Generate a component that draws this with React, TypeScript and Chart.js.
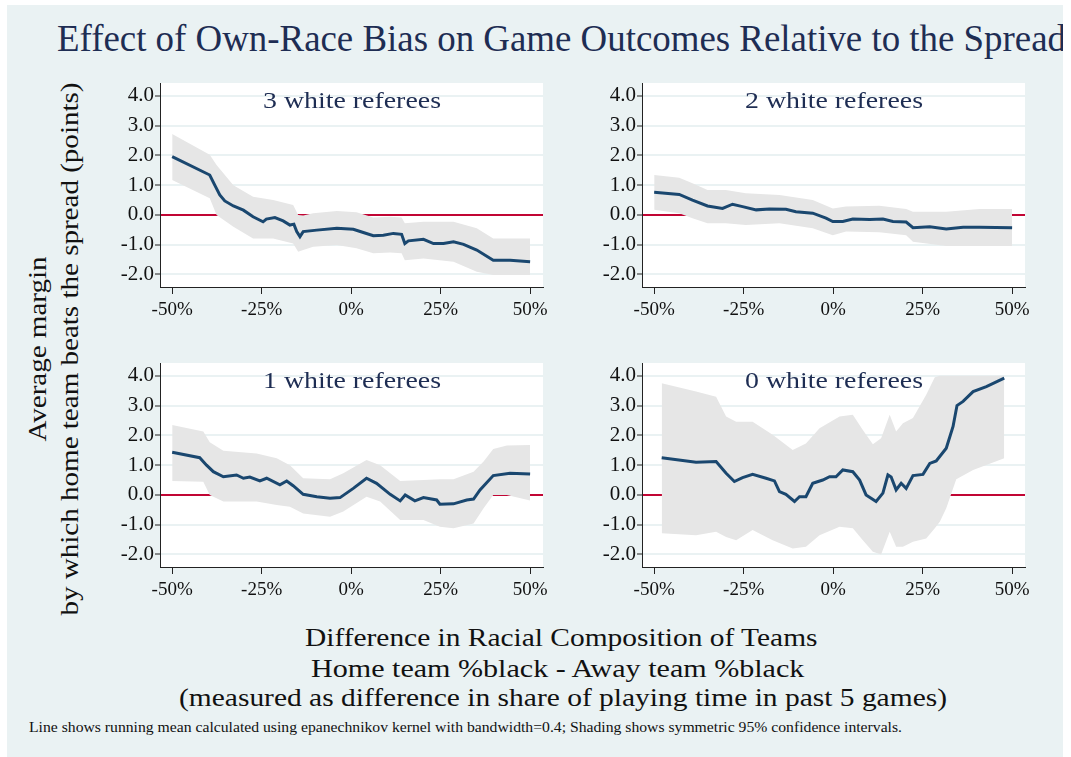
import React, { useEffect, useRef } from "react";
import { Chart, registerables } from "chart.js";

Chart.register(...registerables);

// ---------- data ----------
const X_TICKS = [-50, -25, 0, 25, 50];
const Y_TICKS = [-2, -1, 0, 1, 2, 3, 4];

const PANEL_TITLES = ["3 white referees", "2 white referees", "1 white referees", "0 white referees"];

// 3 white referees
const lineX3 = [-50, -39.5, -38.1, -36.7, -35.3, -32.9, -30.1, -27.4, -24.6, -23.7, -21.3, -19, -17.1, -16, -15.2, -14.3, -13.4, -9.6, -4, 0.6, 3.4, 6.2, 9, 11.8, 14.1, 15, 16, 20.2, 23, 25.8, 28.6, 31.4, 35.1, 39.7, 44.4, 50];
const mean3 = [1.96, 1.34, 1.0, 0.67, 0.47, 0.3, 0.16, -0.06, -0.23, -0.14, -0.09, -0.2, -0.34, -0.31, -0.56, -0.73, -0.56, -0.51, -0.45, -0.48, -0.59, -0.7, -0.68, -0.62, -0.65, -0.96, -0.87, -0.82, -0.96, -0.96, -0.9, -0.99, -1.18, -1.52, -1.52, -1.57];
const bandX3 = [-50, -39.5, -37.6, -32.9, -27.4, -21.8, -16.2, -14.8, -13.4, -10.6, -4, 1.5, 6.2, 10.9, 14.1, 15, 20.2, 28.6, 35.1, 39.7, 50];
const hi3 = [2.72, 2.02, 1.68, 1.0, 0.61, 0.5, 0.33, 0.0, -0.02, 0.06, 0.13, 0.09, -0.09, -0.06, -0.09, -0.28, -0.23, -0.23, -0.45, -0.79, -0.79];
const lo3 = [1.17, 0.56, 0.0, -0.4, -0.79, -0.79, -0.96, -1.24, -1.18, -1.07, -1.01, -1.12, -1.29, -1.26, -1.29, -1.52, -1.46, -1.57, -1.91, -2.02, -2.02];

// 2 white referees
const lineX2 = [-50, -43, -39.3, -35.1, -30.9, -28.1, -25.3, -21.5, -17.8, -13.2, -10.4, -5.7, -2, -0.1, 2.7, 5.5, 10.2, 13.9, 16.7, 20.4, 22.3, 27, 31.6, 36.3, 40.9, 50];
const mean2 = [0.76, 0.69, 0.5, 0.3, 0.22, 0.36, 0.28, 0.17, 0.2, 0.19, 0.11, 0.06, -0.11, -0.22, -0.22, -0.14, -0.15, -0.14, -0.22, -0.24, -0.43, -0.4, -0.47, -0.41, -0.41, -0.43];
const bandX2 = [-50, -43, -39.3, -35.1, -30, -24.4, -15, -5.7, -0.1, 3.6, 12.9, 20.4, 22.3, 31.6, 40.9, 50];
const hi2 = [1.34, 1.25, 1.06, 0.84, 0.84, 0.73, 0.67, 0.5, 0.22, 0.28, 0.31, 0.2, 0.11, 0.11, 0.2, 0.2];
const lo2 = [0.17, 0.06, -0.11, -0.28, -0.28, -0.34, -0.28, -0.45, -0.68, -0.56, -0.58, -0.68, -0.9, -1.04, -1.04, -1.04];

// 1 white referees
const lineX1 = [-50, -42.3, -40.4, -38.5, -35.7, -32, -30.1, -28.3, -25.5, -23.6, -19.9, -18, -16.2, -13.4, -9.6, -5.9, -3.1, 0.6, 4.3, 7.1, 10.9, 13.7, 15.1, 17.8, 20.2, 23.9, 24.8, 28.6, 32.3, 34.2, 36, 39.7, 44.4, 50];
const mean1 = [1.43, 1.25, 1.0, 0.78, 0.61, 0.67, 0.56, 0.6, 0.47, 0.56, 0.34, 0.47, 0.31, 0.02, -0.06, -0.11, -0.09, 0.22, 0.56, 0.39, 0.02, -0.2, 0.0, -0.2, -0.09, -0.17, -0.31, -0.3, -0.17, -0.14, 0.17, 0.65, 0.73, 0.7];
const bandX1 = [-50, -41.3, -39.5, -35.7, -26.4, -20.8, -17.1, -13.4, -5.9, -2.2, 4.3, 8.1, 13.7, 20.2, 24.8, 28.6, 34.2, 37, 39.7, 43.5, 50];
const hi1 = [2.35, 2.13, 1.77, 1.48, 1.39, 1.23, 1.0, 0.56, 0.53, 0.73, 1.17, 1.0, 0.47, 0.5, 0.53, 0.53, 0.78, 1.12, 1.54, 1.66, 1.68];
const lo1 = [0.47, 0.44, 0.0, -0.22, -0.22, -0.34, -0.4, -0.62, -0.73, -0.56, -0.06, -0.22, -0.84, -0.84, -1.07, -1.12, -0.96, -0.45, 0.0, 0.0, -0.19];

// 0 white referees
const lineX0 = [-47.9, -38.3, -32.7, -29.9, -27.6, -25.3, -22.5, -18.75, -16.4, -15, -13.2, -10.8, -9.4, -7.6, -5.7, -2.9, -1, 0.8, 2.7, 5.5, 7.4, 9.2, 12, 13.9, 15.3, 16.2, 17.6, 19, 20.4, 22.3, 25.1, 27, 28.8, 31.6, 33.5, 34.6, 36.3, 39.1, 42.8, 47.8];
const mean0 = [1.25, 1.1, 1.12, 0.73, 0.45, 0.58, 0.69, 0.56, 0.47, 0.11, 0.02, -0.22, -0.06, -0.06, 0.39, 0.5, 0.61, 0.61, 0.84, 0.78, 0.5, 0.0, -0.22, 0.06, 0.67, 0.6, 0.17, 0.39, 0.22, 0.65, 0.69, 1.06, 1.14, 1.57, 2.3, 3.0, 3.14, 3.47, 3.64, 3.92];
const bandX0 = [-47.9, -38.3, -32.7, -29.9, -27.1, -22.5, -16.9, -11.3, -7.6, -3.8, 1.8, 5.5, 8.3, 11.1, 13.4, 15.8, 17.6, 19.5, 22.3, 26, 28.4, 29.8, 31.6, 34.4, 39.1, 47.8];
const hi0 = [3.75, 3.47, 3.3, 2.63, 2.46, 2.46, 2.02, 1.51, 1.73, 2.24, 2.63, 2.69, 2.18, 1.7, 1.9, 2.69, 2.13, 2.41, 2.58, 3.36, 3.95, 4.0, 4.0, 4.0, 4.0, 4.0];
const lo0 = [-1.29, -1.35, -1.24, -1.41, -1.52, -1.18, -1.52, -1.8, -1.74, -1.35, -1.07, -1.12, -1.52, -1.91, -2.0, -1.24, -1.74, -1.74, -1.57, -1.46, -1.12, -0.9, -0.45, 0.53, 0.84, 1.23];

// ---------- style ----------
const FONT_NAME = "Liberation Serif";
const FONT = '"Liberation Serif", "Times New Roman", Times, serif';
const BG = "#eaf2f3";
const NAVY = "#1a476f";
const BAND = "#e6e6e6";
const RED = "#c10534";
const GRID = "#eaf2f3";
const AXIS = "#222";
const TXT = "#111";
const TITLE_C = "#1e2d53";

const whiteArea = {
  id: "whiteArea",
  beforeDraw(chart: any) {
    const { ctx, chartArea: a } = chart;
    ctx.save();
    ctx.fillStyle = "#ffffff";
    ctx.fillRect(a.left, a.top, a.right - a.left, a.bottom - a.top);
    ctx.restore();
  },
};

let measureCtx: CanvasRenderingContext2D | null = null;
function measure(text: string, size: number) {
  if (!measureCtx) measureCtx = document.createElement("canvas").getContext("2d");
  measureCtx!.font = `${size}px "${FONT_NAME}"`;
  return measureCtx!.measureText(text).width;
}

type PanelProps = {
  lineX: number[];
  mean: number[];
  bandX: number[];
  hi: number[];
  lo: number[];
  left: number;
  top: number;
};

const CW = 460;
const CH = 204 + 36;

function Panel({ lineX, mean, bandX, hi, lo, left, top }: PanelProps) {
  const ref = useRef<HTMLCanvasElement>(null);
  useEffect(() => {
    const chart = new Chart(ref.current as HTMLCanvasElement, {
      type: "line",
      data: {
        datasets: [
          {
            data: lineX.map((x, i) => ({ x, y: mean[i] })),
            borderColor: NAVY,
            borderWidth: 3,
            pointRadius: 0,
            fill: false,
            tension: 0,
            order: 0,
          },
          {
            data: bandX.map((x, i) => ({ x, y: hi[i] })),
            borderWidth: 0,
            borderColor: "rgba(0,0,0,0)",
            backgroundColor: BAND,
            pointRadius: 0,
            fill: "+1",
            tension: 0,
            order: 1,
          },
          {
            data: bandX.map((x, i) => ({ x, y: lo[i] })),
            borderWidth: 0,
            borderColor: "rgba(0,0,0,0)",
            pointRadius: 0,
            fill: false,
            tension: 0,
            order: 2,
          },
        ],
      } as any,
      options: {
        animation: false,
        responsive: false,
        maintainAspectRatio: false,
        events: [],
        layout: { padding: { left: 0, right: 17, top: 0, bottom: 0 } },
        plugins: {
          legend: { display: false },
          tooltip: { enabled: false },
          title: { display: false },
        },
        scales: {
          x: {
            type: "linear",
            min: -53.4,
            max: 53.6,
            afterBuildTicks: (s: any) => {
              s.ticks = X_TICKS.map((v) => ({ value: v }));
            },
            afterFit: (s: any) => {
              s.height = 36;
              s.paddingLeft = 0;
              s.paddingRight = 0;
            },
            grid: {
              drawOnChartArea: false,
              drawTicks: true,
              tickLength: 7,
              tickColor: AXIS,
              tickWidth: 1,
            },
            border: { display: true, color: AXIS, width: 1 },
            ticks: {
              font: { family: FONT, size: 19 },
              color: TXT,
              padding: 5,
              maxRotation: 0,
              autoSkip: false,
              callback: (v: any) => v + "%",
            },
          },
          y: {
            type: "linear",
            min: -2.42,
            max: 4.43,
            afterBuildTicks: (s: any) => {
              s.ticks = Y_TICKS.map((v) => ({ value: v }));
            },
            afterFit: (s: any) => {
              s.width = 60;
              s.paddingTop = 0;
              s.paddingBottom = 0;
            },
            grid: {
              color: (c: any) => (c.tick && c.tick.value === 0 ? RED : GRID),
              lineWidth: 2,
              drawTicks: true,
              tickLength: 5,
              tickColor: AXIS,
              tickWidth: 1,
            },
            border: { display: true, color: AXIS, width: 1 },
            ticks: {
              font: { family: FONT, size: 21 },
              color: TXT,
              padding: 1,
              autoSkip: false,
              callback: (v: any) => Number(v).toFixed(1),
            },
          },
        },
      } as any,
      plugins: [whiteArea],
    });
    return () => chart.destroy();
  }, []);
  return (
    <canvas
      ref={ref}
      width={CW}
      height={CH}
      style={{ position: "absolute", left, top, width: CW, height: CH }}
    />
  );
}

// text positioned by baseline; optional target width (stretches horizontally)
function Txt({ x, y, size, color, children, center, width }: any) {
  const natural = measure(String(children), size);
  const sx = width ? width / natural : 1;
  const left = center ? x - (natural * sx) / 2 : x;
  return (
    <div
      style={{
        position: "absolute",
        left,
        top: y - 0.8375 * size,
        fontFamily: FONT,
        fontSize: size,
        lineHeight: size + "px",
        color,
        whiteSpace: "nowrap",
        transformOrigin: "0 0",
        transform: `scaleX(${sx})`,
      }}
    >
      {children}
    </div>
  );
}

// rotated text (reads bottom-to-top); baseline at x = bx, centered at cy
function VTxt({ bx, cy, size, color, children, width }: any) {
  const natural = measure(String(children), size);
  const sx = width ? width / natural : 1;
  const w = natural;
  const cx = bx - 0.3375 * size;
  return (
    <div
      style={{
        position: "absolute",
        left: cx - w / 2,
        top: cy - size / 2,
        width: w,
        height: size,
        lineHeight: size + "px",
        fontFamily: FONT,
        fontSize: size,
        color,
        textAlign: "center",
        whiteSpace: "nowrap",
        transformOrigin: "50% 50%",
        transform: `rotate(-90deg) scaleX(${sx})`,
      }}
    >
      {children}
    </div>
  );
}

export default function App() {
  const panels = [
    { lineX: lineX3, mean: mean3, bandX: bandX3, hi: hi3, lo: lo3, left: 100, top: 83, cx: 351.5, ty: 108 },
    { lineX: lineX2, mean: mean2, bandX: bandX2, hi: hi2, lo: lo2, left: 582, top: 83, cx: 834, ty: 108 },
    { lineX: lineX1, mean: mean1, bandX: bandX1, hi: hi1, lo: lo1, left: 100, top: 363, cx: 351.5, ty: 388 },
    { lineX: lineX0, mean: mean0, bandX: bandX0, hi: hi0, lo: lo0, left: 582, top: 363, cx: 834, ty: 388 },
  ];
  const yLabel2 = "by which home team beats the spread (points)";
  const yScale = 533 / measure(yLabel2, 26);
  const yLabel1 = "Average margin";
  return (
    <div style={{ position: "absolute", left: 0, top: 0, width: 1071, height: 757, background: "#fff", overflow: "hidden" }}>
      <div style={{ position: "absolute", left: 7, top: 5, width: 1056, height: 752, background: BG, overflow: "hidden" }}>
        <Txt x={57 - 7} y={51 - 5} size={37} width={1009} color={TITLE_C}>
          Effect of Own-Race Bias on Game Outcomes Relative to the Spread
        </Txt>
      </div>
      {panels.map((p, i) => (
        <Panel key={i} lineX={p.lineX} mean={p.mean} bandX={p.bandX} hi={p.hi} lo={p.lo} left={p.left} top={p.top} />
      ))}
      {panels.map((p, i) => (
        <Txt key={"t" + i} x={p.cx} y={p.ty} size={24} width={178} color={TITLE_C} center>
          {PANEL_TITLES[i]}
        </Txt>
      ))}
      <VTxt bx={47} cy={349} size={26} width={measure(yLabel1, 26) * yScale} color={TXT}>{yLabel1}</VTxt>
      <VTxt bx={78} cy={349} size={26} width={533} color={TXT}>{yLabel2}</VTxt>
      <Txt x={561.5} y={647} size={26} width={513} color={TXT} center>Difference in Racial Composition of Teams</Txt>
      <Txt x={558.5} y={678} size={26} width={495} color={TXT} center>Home team %black - Away team %black</Txt>
      <Txt x={563} y={707} size={26} width={768} color={TXT} center>(measured as difference in share of playing time in past 5 games)</Txt>
      <Txt x={29} y={733} size={14} width={873} color={TXT}>
        Line shows running mean calculated using epanechnikov kernel with bandwidth=0.4; Shading shows symmetric 95% confidence intervals.
      </Txt>
    </div>
  );
}
